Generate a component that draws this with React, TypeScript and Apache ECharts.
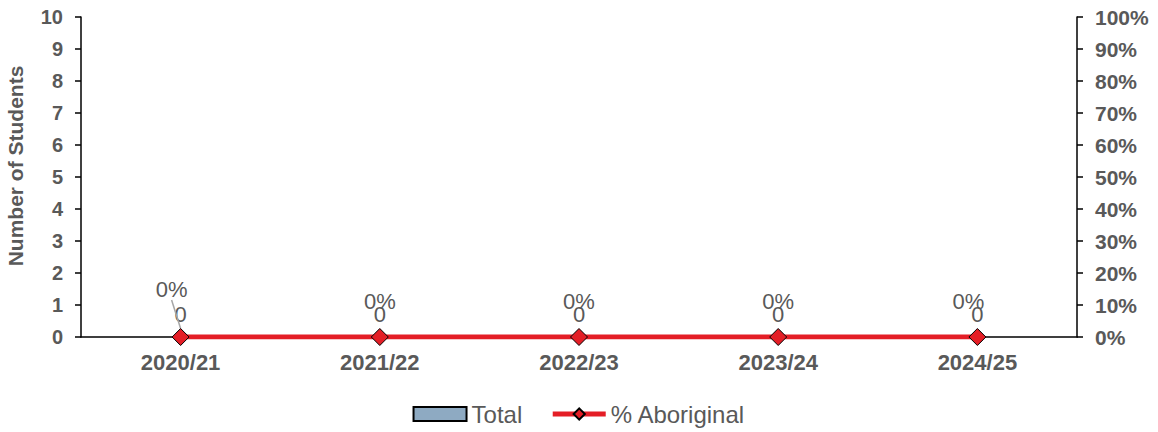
import React, { useEffect, useRef } from "react";
import * as echarts from "echarts";

const categories = ["2020/21", "2021/22", "2022/23", "2023/24", "2024/25"];
const totalValues = [0, 0, 0, 0, 0];
const aboriginalPct = [0, 0, 0, 0, 0];
const leftTicks = [0, 10, 1];
const rightTicks = [0, 1, 0.1];

const FONT = "'Liberation Sans', Arial, sans-serif";
const GRAY = "#595959";

export default function App() {
  const ref = useRef<HTMLDivElement>(null);
  useEffect(() => {
    const chart = echarts.init(ref.current!, undefined, { renderer: "svg" });
    const pctData = aboriginalPct.map((v, i) => {
      if (i === 0) {
        return {
          value: v,
          labelLine: { show: true, lineStyle: { color: "#A6A6A6", width: 1.5 } },
        };
      }
      return v;
    });
    chart.setOption({
      animation: false,
      textStyle: { fontFamily: FONT },
      grid: {
        left: 81,
        right: 81,
        top: 17,
        bottom: 95,
        containLabel: false,
        outerBoundsMode: "none",
      },
      legend: {
        bottom: 1,
        left: "center",
        itemGap: 28,
        itemWidth: 53,
        itemHeight: 14,
        textStyle: { color: GRAY, fontSize: 24, fontFamily: FONT },
        data: [
          { name: "Total", icon: "rect", itemStyle: { borderColor: "#000", borderWidth: 2 } },
          { name: "% Aboriginal", lineStyle: { width: 5, color: "#E41E26" } },
        ],
      },
      xAxis: {
        type: "category",
        data: categories,
        boundaryGap: true,
        axisLine: { show: true, lineStyle: { color: "#000", width: 1.5 } },
        axisTick: { show: false },
        axisLabel: { color: GRAY, fontWeight: "bold", fontSize: 22, margin: 14, fontFamily: FONT },
      },
      yAxis: [
        {
          type: "value",
          min: leftTicks[0],
          max: leftTicks[1],
          interval: leftTicks[2],
          name: "Number of Students",
          nameLocation: "middle",
          nameGap: 55,
          nameTextStyle: {
            color: GRAY,
            fontWeight: "bold",
            fontSize: 21,
            fontFamily: FONT,
            padding: [0, 0, 0, 22],
          },
          axisLine: { show: true, lineStyle: { color: "#000", width: 1.5 } },
          axisTick: { show: true, length: 6, lineStyle: { color: "#000", width: 1.5 } },
          splitLine: { show: false },
          axisLabel: { color: GRAY, fontWeight: "bold", fontSize: 20, margin: 18, fontFamily: FONT },
        },
        {
          type: "value",
          min: rightTicks[0],
          max: rightTicks[1],
          interval: rightTicks[2],
          position: "right",
          axisLine: { show: true, lineStyle: { color: "#000", width: 1.5 } },
          axisTick: { show: true, length: 6, lineStyle: { color: "#000", width: 1.5 } },
          splitLine: { show: false },
          axisLabel: {
            color: GRAY,
            fontWeight: "bold",
            fontSize: 21,
            margin: 18,
            fontFamily: FONT,
            formatter: (v: number) => Math.round(v * 100) + "%",
          },
        },
      ],
      series: [
        {
          name: "Total",
          type: "bar",
          yAxisIndex: 0,
          data: totalValues,
          barWidth: "50%",
          itemStyle: { color: "#8EAAC2", borderColor: "#000", borderWidth: 0 },
          label: {
            show: true,
            position: "top",
            distance: 12,
            color: GRAY,
            fontSize: 22,
            fontFamily: FONT,
          },
          z: 3,
        },
        {
          name: "% Aboriginal",
          type: "line",
          yAxisIndex: 1,
          data: pctData,
          symbol: "diamond",
          symbolSize: 17,
          lineStyle: { color: "#E41E26", width: 5 },
          itemStyle: { color: "#E41E26", borderColor: "#000", borderWidth: 1 },
          label: {
            show: true,
            position: "top",
            distance: 16,
            color: GRAY,
            fontSize: 22,
            fontFamily: FONT,
            formatter: (p: any) => Math.round(p.value * 100) + "%",
          },
          labelLayout: (p: any) => {
            if (p.dataIndex === 0) return { dx: -9, dy: -12 };
            if (p.dataIndex === aboriginalPct.length - 1) return { dx: -9 };
            return {};
          },
          labelLine: { show: false },
          z: 5,
        },
      ],
    });
    return () => chart.dispose();
  }, []);
  return <div ref={ref} style={{ width: 1158, height: 432, position: "absolute", left: 0, top: 0 }} />;
}
